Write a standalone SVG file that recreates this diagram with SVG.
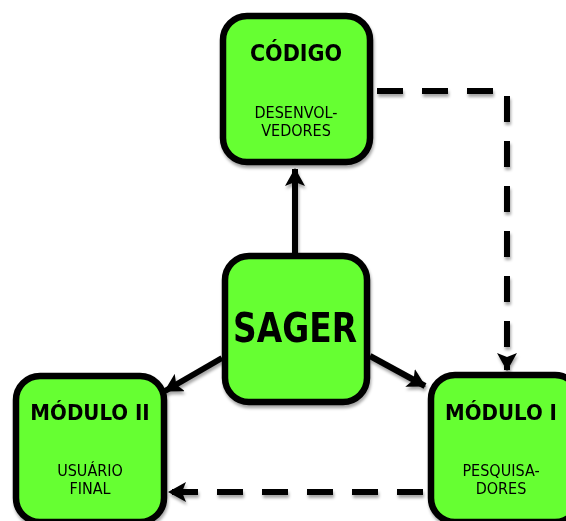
<svg xmlns="http://www.w3.org/2000/svg" width="566" height="521" viewBox="0 0 566 521">
<style>
.box{fill:#66ff33;stroke:#000;stroke-width:6.5}
.t{font-family:"DejaVu Sans Condensed","DejaVu Sans",sans-serif;fill:#000;text-anchor:middle}
.h{font-weight:bold;font-size:22px}
.s{font-size:16px}
.ln{fill:none;stroke:#000;stroke-width:6}
.dash{stroke-dasharray:26 19}
</style>
<defs>
<filter id="sh" x="-20%" y="-20%" width="140%" height="140%">
<feDropShadow dx="1" dy="3" stdDeviation="1.5" flood-color="#000" flood-opacity="0.35"/>
</filter>
<marker id="ah" viewBox="0 0 18 20" refX="17" refY="10" markerWidth="18" markerHeight="20" orient="auto" markerUnits="userSpaceOnUse">
<path d="M0,0 L18,10 L0,20 L4,10 z" fill="#000"/>
</marker>
</defs>
<g id="connectors" filter="url(#sh)">
<path class="ln" d="M295,253 L295,169" marker-end="url(#ah)"/>
<path class="ln" d="M222,358 L165,391" marker-end="url(#ah)"/>
<path class="ln" d="M370,356 L425,386" marker-end="url(#ah)"/>
<path class="ln dash" d="M377,91 H507 V370" marker-end="url(#ah)"/>
<path class="ln dash" d="M423,492 H169" marker-end="url(#ah)"/>
</g>
<g id="codigo" filter="url(#sh)">
<rect class="box" x="223" y="16" width="147" height="146" rx="24"/>
<text class="t h" x="296" y="61" style="font-size:23px">CÓDIGO</text>
<text class="t s" x="296" y="118">DESENVOL-</text>
<text class="t s" x="296" y="136">VEDORES</text>
</g>
<g id="sager" filter="url(#sh)">
<rect class="box" x="225" y="256" width="142" height="146" rx="24"/>
<text class="t" x="295" y="342" font-weight="bold" font-size="41" textLength="124" lengthAdjust="spacingAndGlyphs">SAGER</text>
</g>
<g id="modulo2" filter="url(#sh)">
<rect class="box" x="16" y="376" width="148" height="146" rx="24"/>
<text class="t h" x="90" y="420">MÓDULO II</text>
<text class="t s" x="90" y="476">USUÁRIO</text>
<text class="t s" x="90" y="494">FINAL</text>
</g>
<g id="modulo1" filter="url(#sh)">
<rect class="box" x="431" y="375" width="148" height="147" rx="24"/>
<text class="t h" x="501" y="420">MÓDULO I</text>
<text class="t s" x="501" y="476">PESQUISA-</text>
<text class="t s" x="501" y="494">DORES</text>
</g>
</svg>
